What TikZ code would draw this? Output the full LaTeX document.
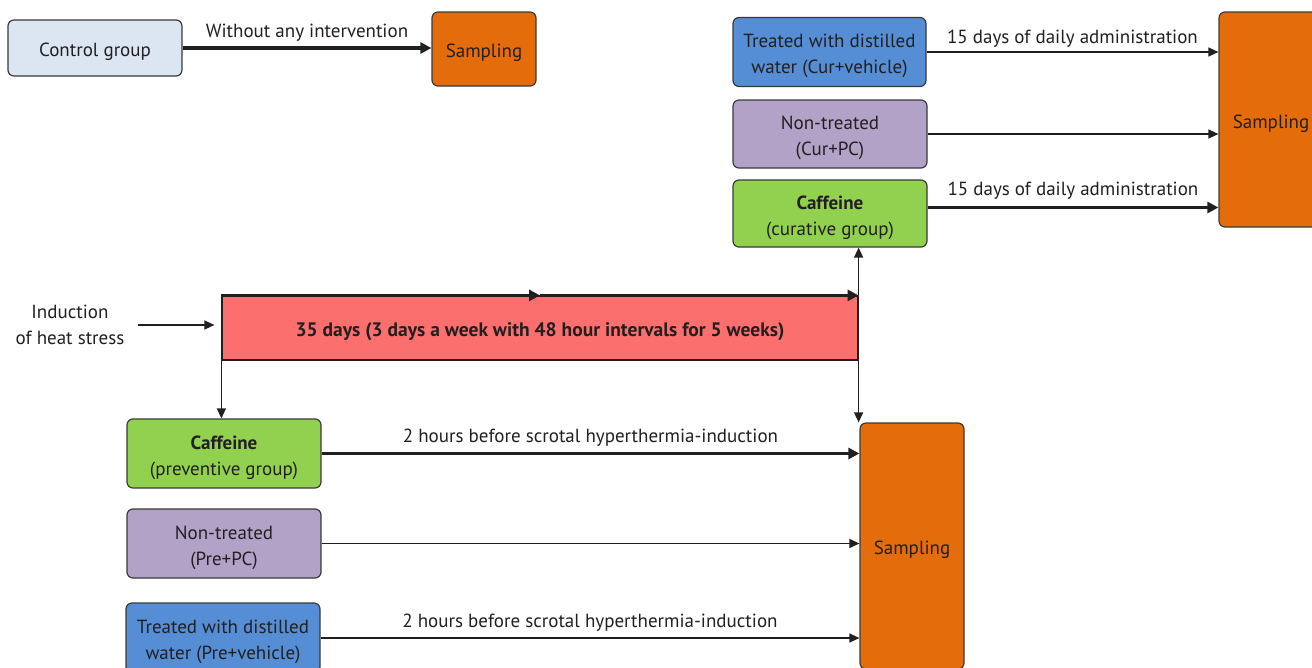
\documentclass[tikz,border=0pt]{standalone}
\usepackage{fontspec}
\setmainfont{PT Sans}
\usetikzlibrary{arrows.meta}
\definecolor{txt}{HTML}{231F20}
\definecolor{boxline}{HTML}{3A3A3A}
\definecolor{ctrlblue}{HTML}{DCE6F2}
\definecolor{sorange}{HTML}{E46C0A}
\definecolor{vblue}{HTML}{558ED5}
\definecolor{pcpurple}{HTML}{B3A2C7}
\definecolor{cgreen}{HTML}{92D050}
\definecolor{barred}{HTML}{FC6F6F}
% box text, pushed down a little inside its box
\newcommand\bxt[1]{\raisebox{0pt}[\dimexpr\height+7pt\relax][\depth]{\begin{tabular}{@{}c@{}}#1\end{tabular}}}
\begin{document}
\begin{tikzpicture}[x=1pt,y=-1pt,
  font=\fontsize{19}{26}\selectfont,
  box/.style={draw=boxline, line width=1.2pt, rounded corners=6pt, inner sep=0pt, text=txt},
  thickarr/.style={draw=txt, line width=3.2pt, -{Triangle[length=11pt,width=11pt]}},
  thinarr/.style={draw=txt, line width=1.3pt, -{Triangle[length=10pt,width=9pt]}},
  lbl/.style={midway, text=txt, inner sep=0pt}]
\useasboundingbox (0,0) rectangle (1312,667);

% top left
\node[box, fill=ctrlblue, minimum width=174pt, minimum height=56pt] (ctrl) at (95,48) {\bxt{Control group}};
\node[box, fill=sorange, minimum width=104pt, minimum height=74pt] (s1) at (484,49) {\bxt{Sampling}};

% curative side
\node[box, fill=vblue, minimum width=193pt, minimum height=69pt] (curv) at (829.5,52) {\bxt{Treated with distilled\\water (Cur+vehicle)}};
\node[box, fill=pcpurple, minimum width=194pt, minimum height=68pt] (curpc) at (830,134) {\bxt{Non-treated\\(Cur+PC)}};
\node[box, fill=cgreen, minimum width=194pt, minimum height=67pt] (cafc) at (830,213.5) {\bxt{\textbf{Caffeine}\\(curative group)}};
\node[box, fill=sorange, minimum width=104pt, minimum height=215pt] (s2) at (1271,119.5) {\bxt{Sampling}};

% heat stress bar
\node[draw=txt, line width=1.2pt, fill=barred, minimum width=636pt, minimum height=64pt, inner sep=0pt, text=txt] (bar) at (540,328) {\bxt{\fontsize{19.5}{26}\selectfont\textbf{35 days (3 days a week with 48 hour intervals for 5 weeks)}}};
\node[align=center, text=txt, inner sep=0pt] (ind) at (70,325) {Induction\\of heat stress};

% preventive side
\node[box, fill=cgreen, minimum width=194pt, minimum height=69pt] (cafp) at (224,453.5) {\bxt{\textbf{Caffeine}\\(preventive group)}};
\node[box, fill=pcpurple, minimum width=194pt, minimum height=69pt] (prepc) at (224,543.5) {\bxt{Non-treated\\(Pre+PC)}};
\node[box, fill=vblue, minimum width=194pt, minimum height=70pt] (prev) at (223,638) {\bxt{Treated with distilled\\water (Pre+vehicle)}};
\node[box, fill=sorange, minimum width=104pt, minimum height=246pt] (s3) at (912,546) {\bxt{Sampling}};

% connectors top
\draw[thickarr] (ctrl.east) -- (ctrl.east -| s1.west) node[lbl, yshift=15pt] {Without any intervention};
\draw[thinarr] (curv.east) -- (curv.east -| s2.west) node[lbl, yshift=13pt] {15 days of daily administration};
\draw[thinarr] (curpc.east) -- (curpc.east -| s2.west);
\draw[thickarr] ([yshift=6pt]cafc.east) -- ([yshift=6pt]cafc.east -| s2.west) node[lbl, yshift=17pt] {15 days of daily administration};

% bar connectors
\draw[thickarr] (bar.north west) -- (bar.north);
\draw[thickarr] (bar.north) -- (bar.north east);
\draw[thinarr] (bar.north east) -- (bar.north east |- cafc.south);
\draw[thinarr] (bar.south east) -- (bar.south east |- s3.north);
\draw[thinarr] (bar.south west) -- (bar.south west |- cafp.north);
\draw[thinarr, shorten <=13pt, shorten >=7pt] (ind.east) -- (ind.east -| bar.west);

% connectors bottom
\draw[thickarr] (cafp.east) -- (cafp.east -| s3.west) node[lbl, yshift=16pt] {2 hours before scrotal hyperthermia-induction};
\draw[thinarr] (prepc.east) -- (prepc.east -| s3.west);
\draw[thinarr] (prev.east) -- (prev.east -| s3.west) node[lbl, yshift=15pt] {2 hours before scrotal hyperthermia-induction};
\end{tikzpicture}
\end{document}
